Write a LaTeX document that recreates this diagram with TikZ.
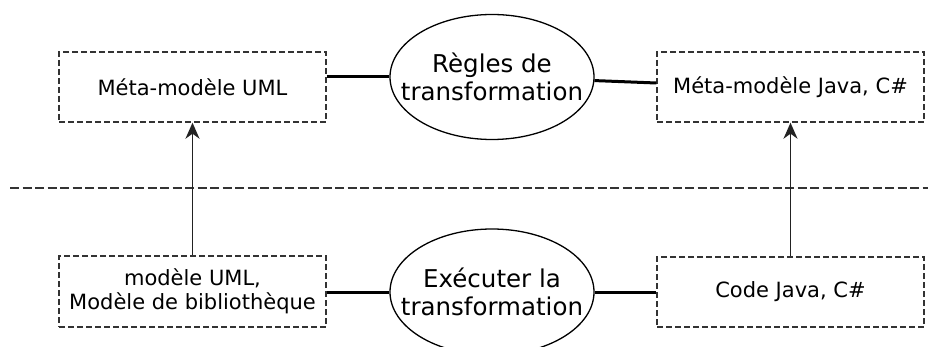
\documentclass[tikz,border=0pt]{standalone}
\usepackage{fontspec}
\setmainfont{DejaVu Sans}
\usetikzlibrary{arrows.meta,shapes.geometric,calc}
\definecolor{boxgray}{HTML}{333333}
\definecolor{arrgray}{HTML}{222222}
\tikzset{
  modelbox/.style={draw=boxgray,dashed,dash pattern=on 6pt off 3pt,line width=1.4pt,
    minimum width=267pt,minimum height=70pt,inner sep=2pt,align=center,
    font=\fontsize{21}{23.5}\selectfont},
  procell/.style={draw=black,ellipse,line width=1.3pt,minimum width=204pt,minimum height=125pt,
    inner xsep=-25pt,inner ysep=0pt,align=center,font=\fontsize{24.5}{28}\selectfont},
  joinline/.style={line width=3pt,black},
  uparrow/.style={line width=1.8pt,arrgray,-{Stealth[length=16pt,width=14pt,inset=5pt]}},
  sepline/.style={line width=1.4pt,boxgray,dash pattern=on 9pt off 3.5pt}
}
\begin{document}
\begin{tikzpicture}[x=1pt,y=-1pt]
\useasboundingbox (0,0) rectangle (928,347);
\node[modelbox] (ma) at (192.5,87) {Méta-modèle UML};
\node[modelbox] (mj) at (790.5,87) {Méta-modèle Java, C\#};
\node[procell] (rt) at (492,77) {Règles de\\transformation};
\node[modelbox,minimum height=71pt] (mu) at (192.5,291.5) {modèle UML,\\Modèle de bibliothèque};
\node[modelbox] (cj) at (790.5,292) {Code Java, C\#};
\node[procell,minimum height=126pt] (ex) at (492,292) {Exécuter la\\transformation};
\coordinate (sl) at (10,188);
\coordinate (sr) at (928,188);
\draw[sepline] (sl) -- (sr);
\draw[joinline] (ma.east |- rt.west) -- (rt.west);
\draw[joinline] (rt.-2) -- ($(mj.west)+(0,-4)$);
\draw[joinline] (mu.east |- ex.west) -- (ex.west);
\draw[joinline] (ex.east) -- (cj.west |- ex.east);
\draw[uparrow] (mu.north) -- (ma.south);
\draw[uparrow] (cj.north) -- (mj.south);
\end{tikzpicture}
\end{document}
